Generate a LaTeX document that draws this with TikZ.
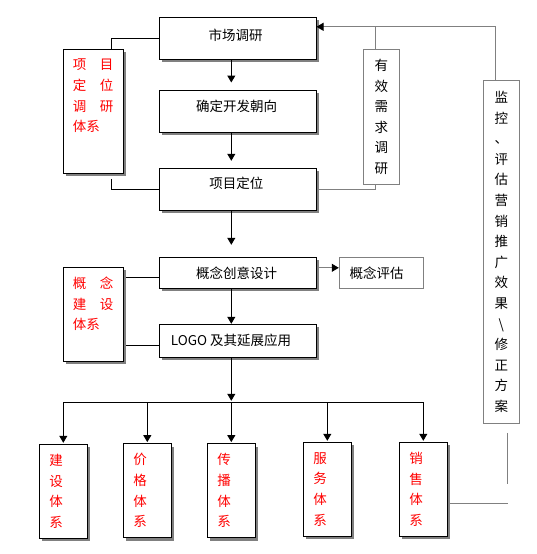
\documentclass[tikz,border=0pt]{standalone}
\usepackage{fontspec}
\newfontfamily\cjk{Noto Sans CJK SC}
\usetikzlibrary{arrows.meta,shadows,calc}
\definecolor{lg}{HTML}{808080}
\begin{document}
\begin{tikzpicture}[x=1pt,y=-1pt,
  every node/.style={font=\cjk\fontsize{13.5}{20.6}\selectfont, inner sep=0pt},
  sbox/.style={draw=black, line width=1pt, fill=white, rectangle,
    drop shadow={shadow xshift=3pt, shadow yshift=-3pt, fill=lg, opacity=1}},
  mainbox/.style={sbox, minimum width=157, minimum height=42},
  gbox/.style={draw=lg, line width=1pt, fill=white, rectangle},
  sysbox/.style={sbox, minimum height=94, text width=28, inner xsep=10pt, align=left, text=red},
  rtxt/.style={text=red, align=left},
  ln/.style={line width=1pt, draw=black},
  gln/.style={line width=1pt, draw=lg},
  arr/.style={ln, -{Triangle[width=8pt,length=7pt]}},
  garr/.style={gln, -{Triangle[width=8pt,length=7pt,color=black]}}
]
\useasboundingbox (0,0) rectangle (536,554);

% main column
\node[mainbox, label={[xshift=-1.8pt,yshift=3pt]center:市场调研}] (A) at (237.5,38.3) {};
\node[mainbox, label={[xshift=-0.8pt,yshift=4.3pt]center:确定开发朝向}] (B) at (237.5,111) {};
\node[mainbox, label={[xshift=-1.2pt,yshift=6pt]center:项目定位}] (C) at (237.5,189.3) {};
\node[mainbox, minimum height=31, label={[xshift=-0.8pt]center:概念创意设计}] (D) at (237.5,272.8) {};
\node[mainbox, minimum height=33, label={[xshift=-6.5pt]center:LOGO 及其延展应用}] (E) at (237.5,340.8) {};
\node[gbox, minimum width=84, minimum height=31, label={[xshift=-4.7pt]center:概念评估}] (F) at (381.3,272.8) {};

% left boxes
\node[sbox, minimum width=60, minimum height=124] (L1) at (93.3,111.3) {};
\node[rtxt] (L1t) at (93,96) {项　目\\定　位\\调　研\\体系};
\node[sbox, minimum width=60, minimum height=94] (L2) at (93.3,314.2) {};
\node[rtxt] (L2t) at (93,304) {概　念\\建　设\\体系};

% right boxes
\node[gbox, minimum width=36, minimum height=135, align=center] (R1) at (381.3,116.8)
  {有\\效\\需\\求\\调\\研};
\node[gbox, minimum width=36, minimum height=343, align=center] (R2) at (501.3,251.8)
  {监\\控\\、\\评\\估\\营\\销\\推\\广\\效\\果\\\textbackslash\\修\\正\\方\\案};

% bottom boxes
\node[sysbox] (b1) at (63.3,491.3) {建\\设\\体\\系};
\node[sysbox] (b2) at (147.3,490.6) {价\\格\\体\\系};
\node[sysbox] (b3) at (231.3,490.6) {传\\播\\体\\系};
\node[sysbox] (b4) at (327.3,489.3) {服\\务\\体\\系};
\node[sysbox] (b5) at (423.3,489.3) {销\\售\\体\\系};

\coordinate (ax) at (231.3,0);
\coordinate (hb) at (0,402.3);
\coordinate (tl) at (0,27.3);

% main arrows
\draw[arr] (ax |- A.south) -- ([yshift=7pt]ax |- B.north);
\draw[arr] (ax |- B.south) -- ([yshift=7pt]ax |- C.north);
\draw[arr] (ax |- C.south) -- ([yshift=12pt]ax |- D.north);
\draw[arr] (ax |- D.south) -- (ax |- E.north);
\draw[arr] (ax |- E.south) -- ([yshift=1.5pt]ax |- hb);
\draw[ln] (b1.north |- hb) -- (b5.north |- hb);
\foreach \b in {b1,b2,b3,b4,b5}
  \draw[arr] (\b.north |- hb) -- ([yshift=1pt]\b.north);

% left connectors
\draw[ln] (A.west) -| ([xshift=18pt]L1.north);
\draw[ln] ([xshift=18pt,yshift=-5pt]L1.south) |- (C.west);
\draw[ln] ([yshift=-4.5pt]D.west) -- ++(-32.5,0);
\draw[ln] ([yshift=-4.5pt]E.west) -- ++(-32.5,0);

% right connectors
\draw[garr] ([xshift=-6pt]R2.north) |- ([yshift=-10pt]A.north east);
\draw[gln] ([xshift=-5.6pt]R1.north) -- ([xshift=-5.6pt]R1.north |- tl);
\draw[gln] ([xshift=-5.6pt]R1.south) |- (C.east);
\draw[garr] ([yshift=5pt]D.east) -- ([yshift=5pt]F.west);
\draw[gln] ([xshift=6pt,yshift=-9pt]R2.south) -- ++(0,51);
\draw[gln] ([xshift=1pt,yshift=-14pt]b5.east) -- ++(59,0);
\end{tikzpicture}
\end{document}
